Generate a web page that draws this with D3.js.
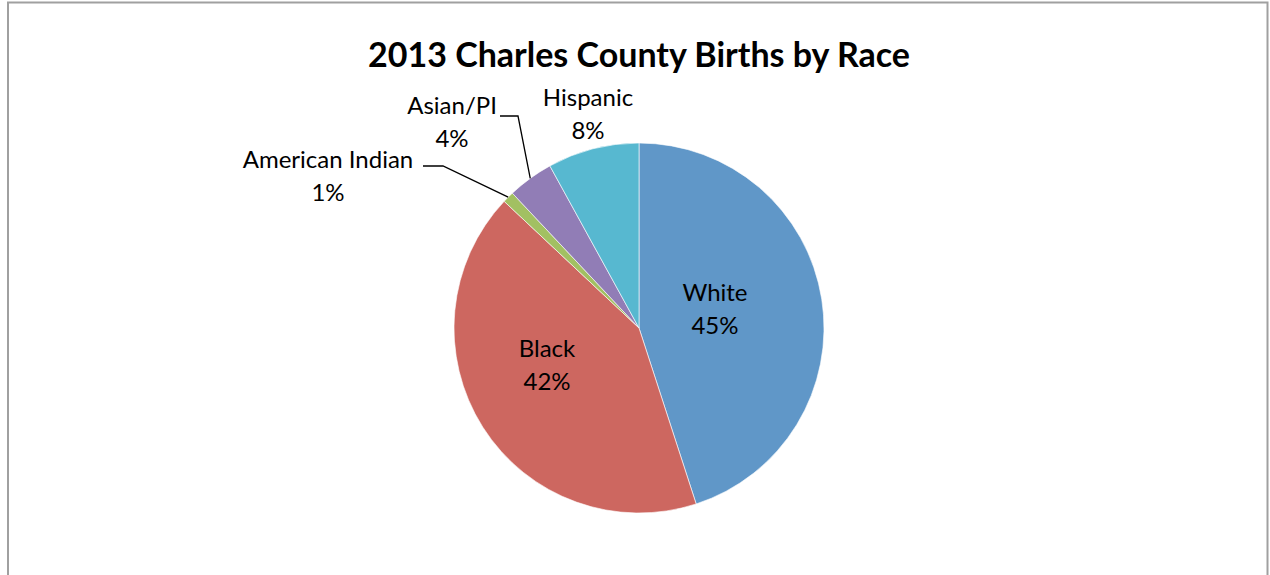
<!DOCTYPE html>
<html>
<head>
<meta charset="utf-8">
<script src="https://cdn.jsdelivr.net/npm/d3@7"></script>
<style>
  html, body { margin: 0; padding: 0; background: #fff; }
  svg { display: block; }
  text { font-family: Lato, "Open Sans", sans-serif; fill: #000; }
</style>
</head>
<body>
<svg id="chart" width="1270" height="575"></svg>
<script>
// Births by race, Charles County, 2013 (share of births, %)
const categories = ["White", "Black", "American Indian", "Asian/PI", "Hispanic"];
const shares = [45, 42, 1, 4, 8];
const colors = ["#6097c8", "#cd6760", "#a2c062", "#917db6", "#57b8d0"];
const title = "2013 Charles County Births by Race";

const cx = 639, cy = 328, R = 185;

const svg = d3.select("#chart");

// chart area frame (runs past the bottom edge)
svg.append("rect")
  .attr("x", 8).attr("y", 2.5)
  .attr("width", 1259.5).attr("height", 640)
  .attr("fill", "none").attr("stroke", "#a0a0a0").attr("stroke-width", 2);

svg.append("text")
  .attr("x", 639).attr("y", 67)
  .attr("text-anchor", "middle")
  .style("font-size", "34px").style("font-weight", "bold")
  .text(title);

const data = categories.map((c, i) => ({ name: c, value: shares[i], color: colors[i] }));

const pie = d3.pie().value(d => d.value).sort(null);
const arcs = pie(data);
const arc = d3.arc().innerRadius(0).outerRadius(R);

const g = svg.append("g").attr("transform", `translate(${cx},${cy})`);

g.selectAll("path.slice")
  .data(arcs)
  .join("path")
  .attr("class", "slice")
  .attr("d", arc)
  .attr("fill", d => d.data.color)
  .attr("stroke", "rgba(255,255,255,0.6)")
  .attr("stroke-width", 1);

const fmt = v => v + "%";

// label anchor (centre x, first-line baseline) relative to the pie centre;
// small slices get a leader line from the label to the slice edge
const labelPos = {
  "White":           { at: [76, -27] },
  "Black":           { at: [-92, 29] },
  "Hispanic":        { at: [-51, -222] },
  "Asian/PI":        { at: [-187, -214], leader: [[-139, -212], [-121, -212]] },
  "American Indian": { at: [-311, -160], leader: [[-216, -162], [-196, -162]] }
};

const lineH = 33;
arcs.forEach(d => {
  const name = d.data.name;
  const o = labelPos[name];
  const [x, y] = o.at;
  if (o.leader) {
    const mid = (d.startAngle + d.endAngle) / 2;
    const edge = [Math.sin(mid) * R, -Math.cos(mid) * R];
    g.append("path")
      .attr("d", d3.line()([...o.leader, edge]))
      .attr("fill", "none").attr("stroke", "#000").attr("stroke-width", 1.3);
  }
  const t = g.append("text").attr("text-anchor", "middle").style("font-size", "24px");
  t.append("tspan").attr("x", x).attr("y", y).text(name);
  t.append("tspan").attr("x", x).attr("y", y + lineH).text(fmt(d.data.value));
});
</script>
</body>
</html>
